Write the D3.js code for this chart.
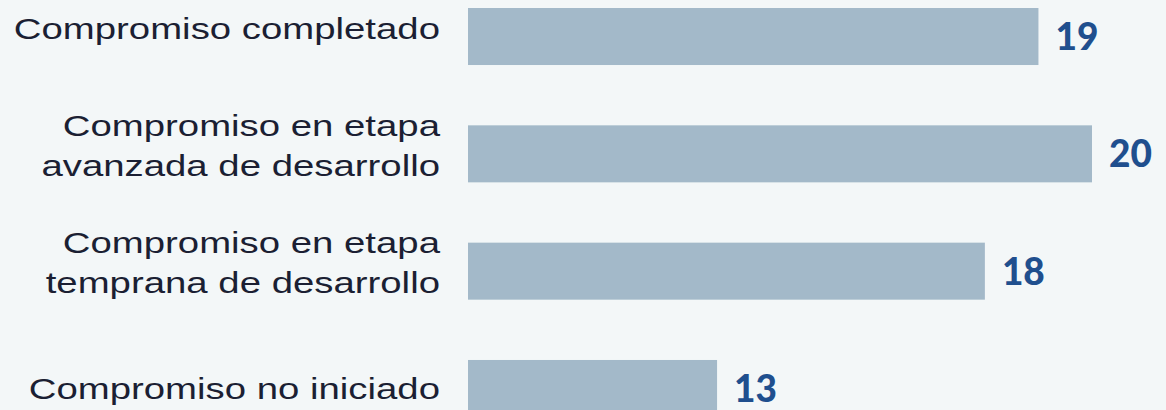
<!DOCTYPE html>
<html>
<head>
<meta charset="utf-8">
<script src="https://cdn.jsdelivr.net/npm/d3@7"></script>
<style>
    html, body { margin: 0; padding: 0; background: #f3f7f8; }
    svg { display: block; }
</style>
</head>
<body>
<div id="chart"></div>
<script>
// categories, one array of lines per label
var categories = [
    ["Compromiso completado"],
    ["Compromiso en etapa", "avanzada de desarrollo"],
    ["Compromiso en etapa", "temprana de desarrollo"],
    ["Compromiso no iniciado"]
];
var values = [19, 20, 18, 13];

var width = 1166, height = 410;
var stretch = 1.3; // text in the picture is drawn wide

var svg = d3.select("#chart")
    .append("svg")
    .attr("width", width)
    .attr("height", height);

svg.append("rect")
    .attr("width", width)
    .attr("height", height)
    .attr("fill", "#f3f7f8");

var keys = categories.map(function (c) { return c.join(" "); });

var yScale = d3.scaleBand()
    .domain(keys)
    .range([8, 417])
    .paddingInner(0.514)
    .paddingOuter(0);

var xScale = d3.scaleLinear()
    .domain([8.35, 20])
    .range([468, 1092]);

var rows = svg.selectAll(".row")
    .data(keys)
    .enter()
    .append("g")
    .attr("class", "row");

rows.append("rect")
    .attr("x", xScale(8.35))
    .attr("y", function (d) { return yScale(d); })
    .attr("width", function (d, i) { return xScale(values[i]) - xScale(8.35); })
    .attr("height", yScale.bandwidth())
    .attr("fill", "#a3b9c9");

rows.append("text")
    .attr("x", function (d, i) { return xScale(values[i]) + 17; })
    .attr("y", function (d) { return yScale(d) + yScale.bandwidth() / 2 + 13.5; })
    .attr("font-family", "Lato, sans-serif")
    .attr("font-weight", 900)
    .attr("font-size", 37)
    .attr("fill", "#1f4f8e")
    .text(function (d, i) { return values[i]; });

// category labels, right aligned against the bars
var lineHeight = 40;
rows.each(function (d, i) {
    var lines = categories[i];
    var cy = yScale(d) + yScale.bandwidth() / 2;
    // last label sits a little lower in the original
    var nudge = i === keys.length - 1 ? 9 : 0;
    var first = cy + 2 + nudge - (lines.length - 1) * lineHeight / 2;
    var t = d3.select(this).append("text")
        .attr("transform", "translate(440," + first + ") scale(" + stretch + ",1)")
        .attr("text-anchor", "end")
        .attr("font-family", "'Liberation Sans', Arial, sans-serif")
        .attr("font-size", 29.5)
        .attr("fill", "#1b1f33");
    lines.forEach(function (line, j) {
        t.append("tspan")
            .attr("x", 0)
            .attr("y", j * lineHeight)
            .text(line);
    });
});
</script>
</body>
</html>
